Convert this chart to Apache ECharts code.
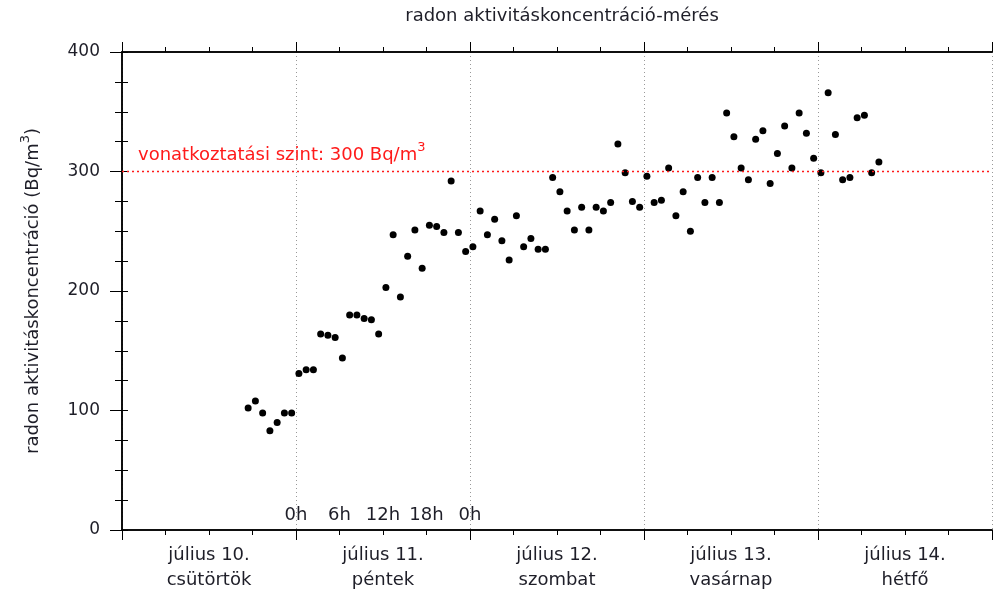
<!DOCTYPE html>
<html>
<head>
<meta charset="utf-8">
<script src="https://cdn.jsdelivr.net/npm/echarts@6/dist/echarts.min.js"></script>
<style>
  html, body { margin: 0; padding: 0; background: #fff; }
  #chart { width: 998px; height: 589px; }
</style>
</head>
<body>
<div id="chart"></div>
<script>
// hours counted from július 10. 0h
const hours = [17.4,18.4,19.4,20.4,21.4,22.4,23.4,24.4,25.4,26.4,27.4,28.4,29.4,30.4,31.4,32.4,33.4,34.4,35.4,36.4,
  37.4,38.4,39.4,40.4,41.4,42.4,43.4,44.4,45.4,46.4,47.4,48.4,49.4,50.4,51.4,52.4,53.4,54.4,55.4,56.4,
  57.4,58.4,59.4,60.4,61.4,62.4,63.4,64.4,65.4,66.4,67.4,68.4,69.4,70.4,71.4,72.4,73.4,74.4,75.4,76.4,
  77.4,78.4,79.4,80.4,81.4,82.4,83.4,84.4,85.4,86.4,87.4,88.4,89.4,90.4,91.4,92.4,93.4,94.4,95.4,96.4,
  97.4,98.4,99.4,100.4,101.4,102.4,103.4,104.4];
const radon = [102,108,98,83,90,98,98,131,134,134,
  164,163,161,144,180,180,177,176,164,203,
  247,195,229,251,219,255,254,249,292,249,
  233,237,267,247,260,242,226,263,237,244,
  235,235,295,283,267,251,270,251,270,267,
  274,323,299,275,270,296,274,276,303,263,
  283,250,295,274,295,274,349,329,303,293,
  327,334,290,315,338,303,349,332,311,299,
  366,331,293,295,345,347,299,308];
const dayLabels = ['július 10.\ncsütörtök', 'július 11.\npéntek', 'július 12.\nszombat', 'július 13.\nvasárnap', 'július 14.\nhétfő'];
const hourLabels = ['0h', '6h', '12h', '18h', '0h'];
const refLevel = 300;

const FONT = 'DejaVu Sans';
const TXT = '#1e1e28';
const RED = '#ff1a1a';
const points = hours.map((h, i) => [h, radon[i]]);

const baseX = {
  type: 'value', min: 0, max: 120,
  axisLine: { show: true, lineStyle: { color: '#000', width: 1.5 } },
  axisLabel: { show: false },
  splitLine: { show: false }
};

const chart = echarts.init(document.getElementById('chart'));
chart.setOption({
  animation: false,
  title: {
    text: 'radon aktivitáskoncentráció-mérés',
    left: 557, top: 2, textAlign: 'center',
    textStyle: { fontFamily: FONT, fontSize: 18, fontWeight: 'normal', color: TXT }
  },
  grid: { left: 122, right: 6, top: 52, bottom: 59, containLabel: false, outerBoundsMode: 'none' },
  xAxis: [
    Object.assign({}, baseX, {
      position: 'bottom', interval: 6,
      axisTick: { length: 5, lineStyle: { color: '#000' } },
      axisLabel: {
        show: true, margin: 13, fontFamily: FONT, fontSize: 18, color: TXT, lineHeight: 25,
        formatter: v => (v % 24 === 12 ? dayLabels[(v - 12) / 24] : '')
      }
    }),
    Object.assign({}, baseX, {
      position: 'bottom', interval: 24,
      axisTick: { length: 10, lineStyle: { color: '#000' } },
      splitLine: { show: true, lineStyle: { color: '#999', type: [1, 3] } }
    }),
    Object.assign({}, baseX, {
      position: 'bottom', interval: 6,
      axisLine: { show: false }, axisTick: { show: false },
      axisLabel: {
        show: true, inside: true, margin: 6, fontFamily: FONT, fontSize: 18, color: TXT,
        formatter: v => (v >= 24 && v <= 48 ? hourLabels[(v - 24) / 6] : '')
      }
    }),
    Object.assign({}, baseX, {
      position: 'top', interval: 6,
      axisTick: { length: 5, lineStyle: { color: '#000' } }
    }),
    Object.assign({}, baseX, {
      position: 'top', interval: 24,
      axisTick: { length: 10, lineStyle: { color: '#000' } }
    })
  ],
  yAxis: [
    {
      type: 'value', min: 0, max: 400, interval: 100, position: 'left',
      name: '{t|radon aktivitáskoncentráció (Bq/m}{s|3}{t|)}',
      nameLocation: 'middle', nameGap: 75,
      nameTextStyle: {
        rich: {
          t: { fontFamily: FONT, fontSize: 18, color: TXT },
          s: { fontFamily: FONT, fontSize: 13, color: TXT, padding: [0, 0, 15, 0] }
        }
      },
      axisLine: { show: true, lineStyle: { color: '#000', width: 1.5 } },
      axisTick: { length: 12, lineStyle: { color: '#000' } },
      axisLabel: { margin: 22, fontFamily: FONT, fontSize: 17, color: TXT },
      splitLine: { show: false }
    },
    {
      type: 'value', min: 0, max: 400, interval: 25, position: 'left',
      axisLine: { show: false },
      axisTick: { length: 7, lineStyle: { color: '#000' } },
      axisLabel: { show: false }, splitLine: { show: false }
    },
    {
      type: 'value', min: 0, max: 400, interval: 25, position: 'right',
      axisLine: { show: true, lineStyle: { color: '#000', width: 1.5 } },
      axisTick: { length: 6, lineStyle: { color: '#000' } },
      axisLabel: { show: false }, splitLine: { show: false }
    }
  ],
  series: [{
    type: 'scatter',
    data: points,
    symbolSize: 7,
    itemStyle: { color: '#000', opacity: 1 },
    markLine: {
      silent: true, symbol: 'none',
      lineStyle: { color: RED, type: [2, 3], width: 1.3, opacity: 1 },
      label: {
        position: 'insideStartTop', distance: [16, 2],
        formatter: '{t|vonatkoztatási szint: 300 Bq/m}{s|3}',
        rich: {
          t: { fontFamily: FONT, fontSize: 18, color: RED },
          s: { fontFamily: FONT, fontSize: 13, color: RED, padding: [0, 0, 15, 0] }
        }
      },
      data: [{ yAxis: refLevel, lineStyle: { color: RED, type: [2, 3], width: 1.3 } }]
    }
  }]
});
</script>
</body>
</html>
